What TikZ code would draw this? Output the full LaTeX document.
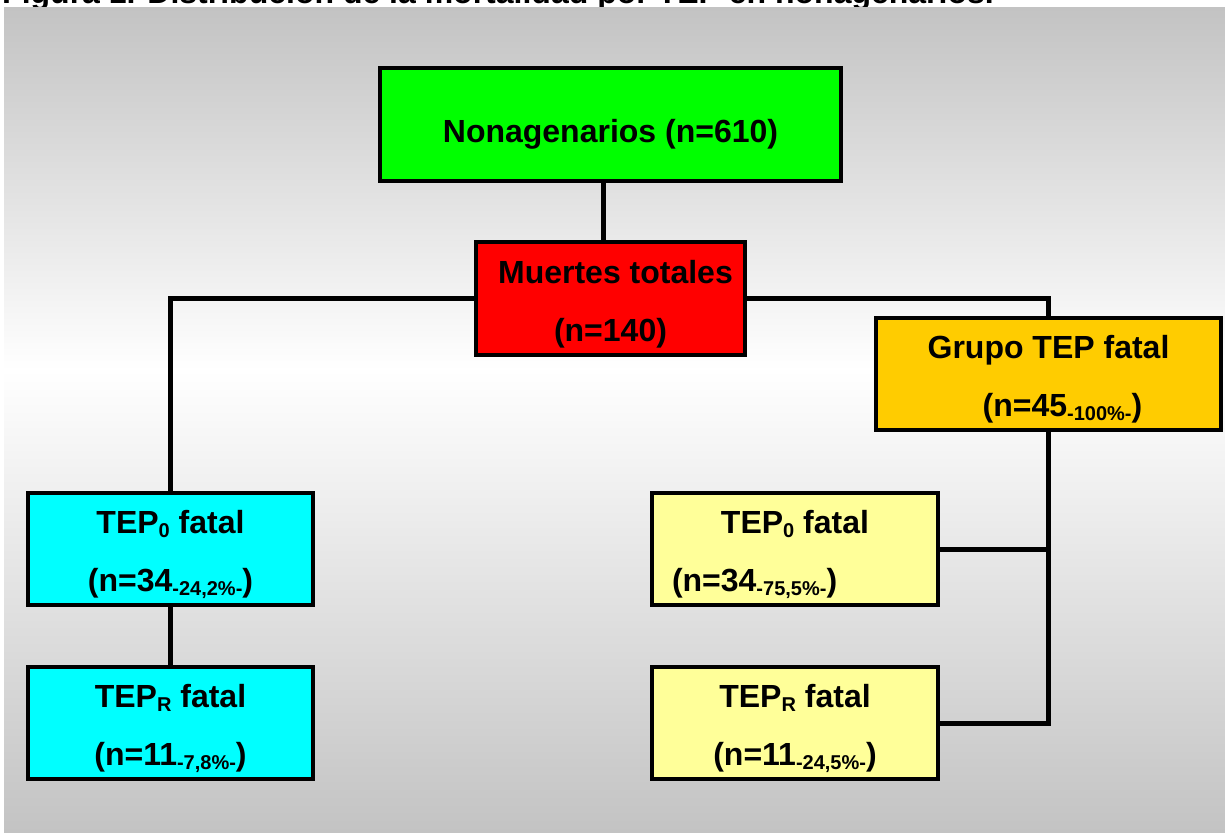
\documentclass[tikz,border=0pt]{standalone}
\usepackage{fontspec}
\setmainfont{Liberation Sans}
\usepackage{tikz}
\definecolor{bggray}{RGB}{195,195,195}
\definecolor{boxgreen}{RGB}{0,255,0}
\definecolor{boxred}{RGB}{255,0,0}
\definecolor{boxorange}{RGB}{255,204,0}
\definecolor{boxcyan}{RGB}{0,255,255}
\definecolor{boxyellow}{RGB}{255,255,153}
\tikzstyle{box} = [draw=black,line width=4pt,inner sep=0pt,align=center,font=\fontsize{32}{58}\selectfont\bfseries]
\tikzstyle{link} = [draw,line width=5pt]
\newcommand{\idx}[1]{\raisebox{-0.22ex}{\fontsize{20}{20}\selectfont #1}}
\newcommand{\alto}[1][34pt]{\rule{0pt}{#1}}

\begin{document}
\begin{tikzpicture}[x=1pt,y=-1pt]
    \useasboundingbox (0,0) rectangle (1225,832);

    % title, cut off at the top
    \begin{scope}
    \clip (0,0) rectangle (1225,8);
    \node[anchor=base west,inner sep=0pt,font=\fontsize{32}{36}\selectfont\bfseries] (titulo) at (2,4) {Figura 1. Distribución de la mortalidad por TEP en nonagenarios.};
    \end{scope}

    \shade[top color=bggray,bottom color=white] (4,8) rectangle (1225,370);
    \shade[top color=white,bottom color=bggray] (4,370) rectangle (1225,832);

    \node[box,fill=boxgreen,minimum width=461,minimum height=113] (nonag) at (610.5,124.5) {\alto[42pt]Nonagenarios (n=610)};
    \node[box,fill=boxred,minimum width=269,minimum height=113] (muertes) at (610.5,298.5) {\alto\hspace*{10pt}Muertes totales\\(n=140)};
    \node[box,fill=boxorange,minimum width=345,minimum height=112] (grupo) at (1048.5,374) {\alto Grupo TEP fatal\\\hspace*{28pt}(n=45\idx{-100\%-})};

    \node[box,fill=boxcyan,minimum width=285,minimum height=112] (tepcero) at (170.5,549) {\alto TEP\idx{0} fatal\\(n=34\idx{-24,2\%-})};
    \node[box,fill=boxcyan,minimum width=285,minimum height=112] (tepr) at (170.5,723) {\alto TEP\idx{R} fatal\\(n=11\idx{-7,8\%-})};

    \node[box,fill=boxyellow,minimum width=286,minimum height=112] (tepcerog) at (795,549) {\alto TEP\idx{0} fatal\\\makebox[246pt][l]{(n=34\idx{-75,5\%-})}};
    \node[box,fill=boxyellow,minimum width=286,minimum height=112] (teprg) at (795,723) {\alto TEP\idx{R} fatal\\(n=11\idx{-24,5\%-})};

    \draw[link] ([xshift=-7pt]nonag.south) -- ([xshift=-7pt]muertes.north);
    \draw[link] (muertes.west) -| (tepcero.north);
    \draw[link] (muertes.east) -| (grupo.north);
    \draw[link] (tepcero.south) -- (tepr.north);
    \draw[link] (grupo.south) |- (teprg.east);
    \draw[link] (tepcerog.east) -- (tepcerog.east -| grupo.south);

\end{tikzpicture}
\end{document}
